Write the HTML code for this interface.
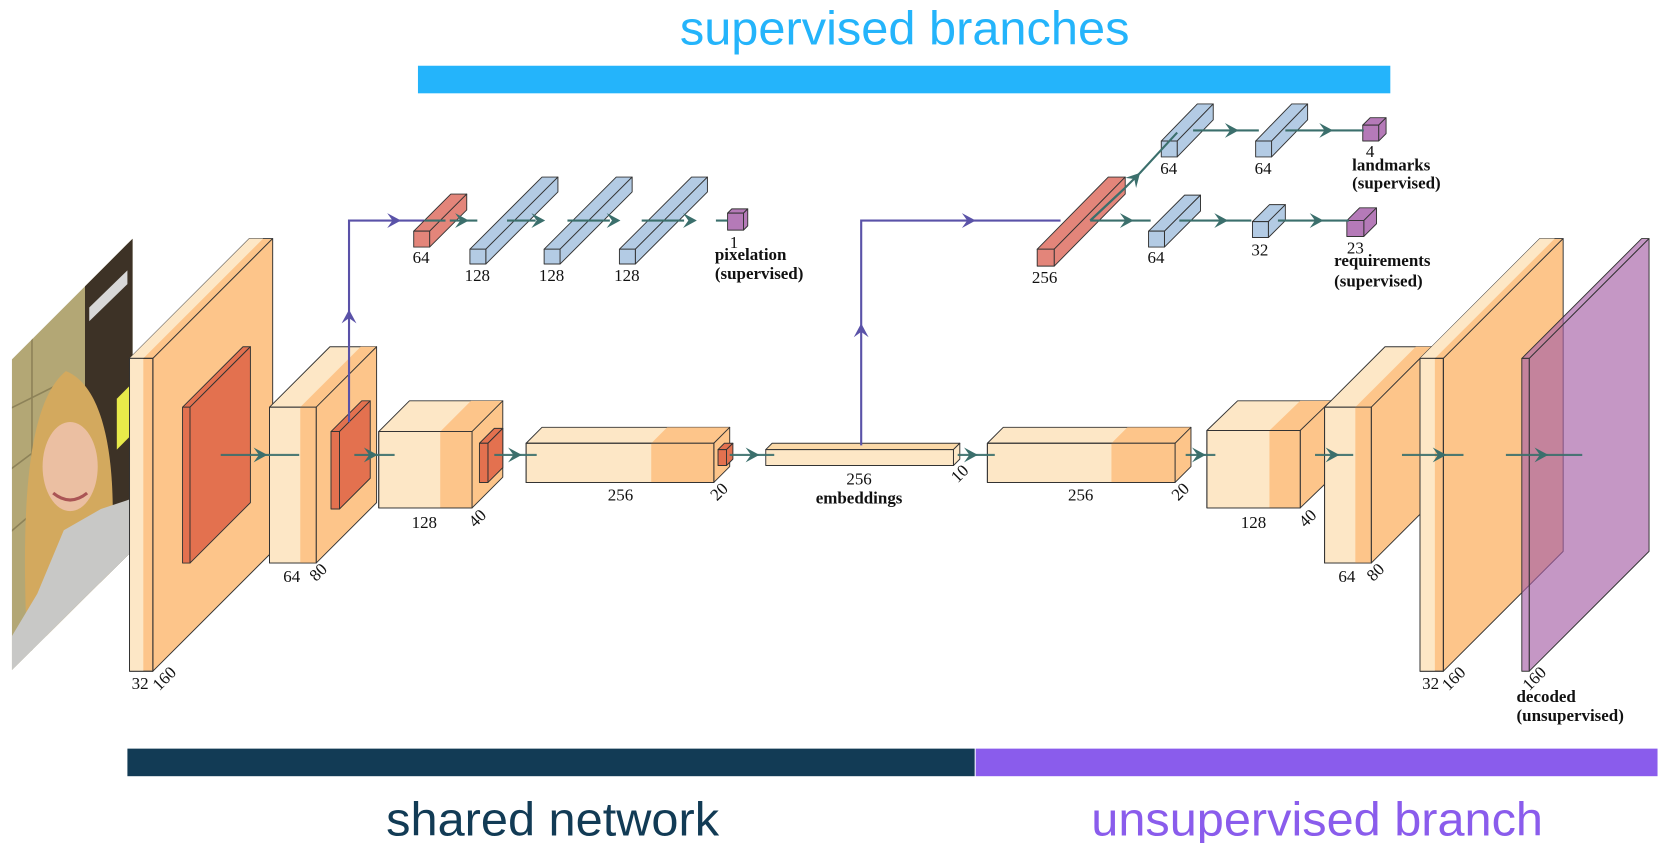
<!DOCTYPE html>
<html><head><meta charset="utf-8"><style>
html,body{margin:0;padding:0;background:#fff;}
svg{display:block;}
.n{font-family:"Liberation Serif",serif;font-size:16px;fill:#111;}
.b{font-family:"Liberation Serif",serif;font-size:16px;font-weight:bold;fill:#111;}
.h{font-family:"Liberation Sans",sans-serif;font-size:45px;}
</style></head><body>
<svg width="1663" height="843" viewBox="0 0 1568 795" xmlns="http://www.w3.org/2000/svg">
<defs>
<clipPath id="ph"><polygon points="11,339 125,225 125,519 11,632"/></clipPath>
<g id="ah"><path d="M-13,-7 L0,0 L-13,7 L-8,0 Z" fill="#3b6f6c"/></g>
<g id="ahp"><path d="M-13,-7 L0,0 L-13,7 L-8,0 Z" fill="#5a52a8"/></g>
</defs>

<text x="853" y="42" text-anchor="middle" class="h" fill="#24b4fb" textLength="424" lengthAdjust="spacingAndGlyphs">supervised branches</text>
<rect x="394" y="62" width="917" height="26" fill="#24b4fb"/>

<!-- photo -->
<g clip-path="url(#ph)">
<rect x="0" y="220" width="130" height="420" fill="#b3a775"/>
<g stroke="#8d8258" stroke-width="1.5"><line x1="0" y1="390" x2="60" y2="360"/><line x1="0" y1="450" x2="40" y2="420"/><line x1="0" y1="510" x2="35" y2="480"/><line x1="30" y1="300" x2="30" y2="640"/></g>
<rect x="80" y="220" width="50" height="330" fill="#3d3226"/>
<polygon points="84,290 120,255 120,268 84,303" fill="#d8d8d8"/>
<polygon points="110,376 124,362 124,410 110,424" fill="#e8ea4a"/>
<rect x="34" y="480" width="6" height="90" fill="#555"/>
<path d="M25,600 C20,480 25,380 62,350 C100,365 110,440 105,520 L100,600 Z" fill="#d3a95e"/>
<ellipse cx="66" cy="440" rx="26" ry="42" fill="#ebbfa2"/>
<path d="M50,465 Q66,478 82,465" stroke="#a55" stroke-width="3" fill="none"/>
<polygon points="11,600 35,560 60,500 95,480 125,470 125,640 11,640" fill="#c8c8c6"/>
</g>

<g stroke="#333" stroke-width="0.9" stroke-linejoin="round">
<polygon points="122,338 235,225 257,225 144,338" fill="#fdc58a"/>
<polygon points="122,338 235,225 248,225 135,338" fill="#fde7c6" stroke="none"/>
<polygon points="144,338 257,225 257,520 144,633" fill="#fdc58a"/>
<rect x="122" y="338" width="22" height="295" fill="#fdc58a"/>
<rect x="122" y="338" width="13" height="295" fill="#fde7c6" stroke="none"/>
<rect x="122" y="338" width="22" height="295" fill="none"/>
<polygon points="172,384 229,327 236,327 179,384" fill="#e3714f"/>
<polygon points="179,384 236,327 236,474 179,531" fill="#e3714f"/>
<rect x="172" y="384" width="7" height="147" fill="#e3714f"/>

<polygon points="254,384 311,327 355,327 298,384" fill="#fde7c6"/>
<polygon points="283,384 340,327 355,327 298,384" fill="#fdc58a" stroke="none"/>
<polygon points="298,384 355,327 355,474 298,531" fill="#fdc58a"/>
<rect x="254" y="384" width="44" height="147" fill="#fde7c6"/>
<rect x="283" y="384" width="15" height="147" fill="#fdc58a" stroke="none"/>
<rect x="254" y="384" width="44" height="147" fill="none"/>
<polygon points="312,407 341,378 349,378 320,407" fill="#e3714f"/>
<polygon points="320,407 349,378 349,451 320,480" fill="#e3714f"/>
<rect x="312" y="407" width="8" height="73" fill="#e3714f"/>

<polygon points="357,407 386,378 474,378 445,407" fill="#fde7c6"/>
<polygon points="415,407 444,378 474,378 445,407" fill="#fdc58a" stroke="none"/>
<polygon points="445,407 474,378 474,450 445,479" fill="#fdc58a"/>
<rect x="357" y="407" width="88" height="72" fill="#fde7c6"/>
<rect x="415" y="407" width="30" height="72" fill="#fdc58a" stroke="none"/>
<rect x="357" y="407" width="88" height="72" fill="none"/>
<polygon points="452,418 466,404 474,404 460,418" fill="#e3714f"/>
<polygon points="460,418 474,404 474,441 460,455" fill="#e3714f"/>
<rect x="452" y="418" width="8" height="37" fill="#e3714f"/>

<polygon points="496,418 511,403 688,403 673,418" fill="#fde7c6"/>
<polygon points="614,418 629,403 688,403 673,418" fill="#fdc58a" stroke="none"/>
<polygon points="673,418 688,403 688,440 673,455" fill="#fdc58a"/>
<rect x="496" y="418" width="177" height="37" fill="#fde7c6"/>
<rect x="614" y="418" width="59" height="37" fill="#fdc58a" stroke="none"/>
<rect x="496" y="418" width="177" height="37" fill="none"/>
<polygon points="677,424 683,418 691,418 685,424" fill="#e3714f"/>
<polygon points="685,424 691,418 691,433 685,439" fill="#e3714f"/>
<rect x="677" y="424" width="8" height="15" fill="#e3714f"/>

<polygon points="722,424 728,418 905,418 899,424" fill="#fbd9a8"/>
<polygon points="899,424 905,418 905,433 899,439" fill="#fde7c6"/>
<rect x="722" y="424" width="177" height="15" fill="#fde7c6"/>

<polygon points="931,418 946,403 1123,403 1108,418" fill="#fde7c6"/>
<polygon points="1048,418 1063,403 1123,403 1108,418" fill="#fdc58a" stroke="none"/>
<polygon points="1108,418 1123,403 1123,440 1108,455" fill="#fdc58a"/>
<rect x="931" y="418" width="177" height="37" fill="#fde7c6"/>
<rect x="1048" y="418" width="60" height="37" fill="#fdc58a" stroke="none"/>
<rect x="931" y="418" width="177" height="37" fill="none"/>

<polygon points="1138,406 1167,378 1255,378 1226,406" fill="#fde7c6"/>
<polygon points="1197,406 1226,378 1255,378 1226,406" fill="#fdc58a" stroke="none"/>
<polygon points="1226,406 1255,378 1255,451 1226,479" fill="#fdc58a"/>
<rect x="1138" y="406" width="88" height="73" fill="#fde7c6"/>
<rect x="1197" y="406" width="29" height="73" fill="#fdc58a" stroke="none"/>
<rect x="1138" y="406" width="88" height="73" fill="none"/>

<polygon points="1249,384 1306,327 1350,327 1293,384" fill="#fde7c6"/>
<polygon points="1278,384 1335,327 1350,327 1293,384" fill="#fdc58a" stroke="none"/>
<polygon points="1293,384 1350,327 1350,474 1293,531" fill="#fdc58a"/>
<rect x="1249" y="384" width="44" height="147" fill="#fde7c6"/>
<rect x="1278" y="384" width="15" height="147" fill="#fdc58a" stroke="none"/>
<rect x="1249" y="384" width="44" height="147" fill="none"/>

<polygon points="1339,338 1452,225 1474,225 1361,338" fill="#fdc58a"/>
<polygon points="1339,338 1452,225 1466,225 1353,338" fill="#fde7c6" stroke="none"/>
<polygon points="1361,338 1474,225 1474,520 1361,633" fill="#fdc58a"/>
<rect x="1339" y="338" width="22" height="295" fill="#fdc58a"/>
<rect x="1339" y="338" width="14" height="295" fill="#fde7c6" stroke="none"/>
<rect x="1339" y="338" width="22" height="295" fill="none"/>

<g fill="#a660a6" fill-opacity="0.65">
<polygon points="1435,338 1548,225 1555,225 1442,338"/>
<polygon points="1442,338 1555,225 1555,520 1442,633"/>
<rect x="1435" y="338" width="7" height="295"/>
</g>
</g>

<!-- main line segments (on top) -->
<g stroke="#3b6f6c" stroke-width="2" fill="none" stroke-opacity="0.9">
<line x1="208" y1="429" x2="282" y2="429"/>
<line x1="334" y1="429" x2="372" y2="429"/>
<line x1="466" y1="429" x2="506" y2="429"/>
<line x1="688" y1="429" x2="730" y2="429"/>
<line x1="903" y1="429" x2="938" y2="429"/>
<line x1="1118" y1="429" x2="1146" y2="429"/>
<line x1="1240" y1="429" x2="1276" y2="429"/>
<line x1="1322" y1="429" x2="1380" y2="429"/>
<line x1="1420" y1="429" x2="1492" y2="429"/>
</g>
<use href="#ah" x="252" y="429"/>
<use href="#ah" x="356" y="429"/>
<use href="#ah" x="492" y="429"/>
<use href="#ah" x="716" y="429"/>
<use href="#ah" x="922" y="429"/>
<use href="#ah" x="1137" y="429"/>
<use href="#ah" x="1263" y="429"/>
<use href="#ah" x="1364" y="429"/>
<use href="#ah" x="1460" y="429"/>

<g stroke="#5a52a8" stroke-width="2" fill="none">
<polyline points="329,398 329,208 400,208"/>
<polyline points="812,420 812,208 1000,208"/>
</g>
<use href="#ahp" transform="translate(329,292) rotate(-90)"/>
<use href="#ahp" x="378" y="208"/>
<use href="#ahp" transform="translate(812,305) rotate(-90)"/>
<use href="#ahp" x="920" y="208"/>

<g stroke="#333" stroke-width="0.9" stroke-linejoin="round">
<polygon points="390,218 425,183 440,183 405,218" fill="#e3857a"/>
<polygon points="405,218 440,183 440,198 405,233" fill="#e3857a"/>
<rect x="390" y="218" width="15" height="15" fill="#e3857a"/>
<polygon points="443,235 511,167 526,167 458,235" fill="#b3cbe4"/>
<polygon points="458,235 526,167 526,181 458,249" fill="#b3cbe4"/>
<rect x="443" y="235" width="15" height="14" fill="#b3cbe4"/>
<polygon points="513,235 581,167 596,167 528,235" fill="#b3cbe4"/>
<polygon points="528,235 596,167 596,181 528,249" fill="#b3cbe4"/>
<rect x="513" y="235" width="15" height="14" fill="#b3cbe4"/>
<polygon points="584,235 652,167 667,167 599,235" fill="#b3cbe4"/>
<polygon points="599,235 667,167 667,181 599,249" fill="#b3cbe4"/>
<rect x="584" y="235" width="15" height="14" fill="#b3cbe4"/>
<polygon points="686,201 690,197 705,197 701,201" fill="#b57ab8"/>
<polygon points="701,201 705,197 705,213 701,217" fill="#b57ab8"/>
<rect x="686" y="201" width="15" height="16" fill="#b57ab8"/>
</g>
<g stroke="#3b6f6c" stroke-width="2"><line x1="400" y1="208" x2="420" y2="208"/><line x1="424" y1="208" x2="450" y2="208"/><line x1="478" y1="208" x2="505" y2="208"/><line x1="535" y1="208" x2="575" y2="208"/><line x1="605" y1="208" x2="645" y2="208"/><line x1="675" y1="208" x2="686" y2="208"/></g>
<use href="#ah" x="442" y="208"/>
<use href="#ah" x="514" y="208"/>
<use href="#ah" x="585" y="208"/>
<use href="#ah" x="657" y="208"/>

<g stroke="#333" stroke-width="0.9" stroke-linejoin="round">
<polygon points="978,235 1045,167 1061,167 994,235" fill="#e3857a"/>
<polygon points="994,235 1061,167 1061,183 994,251" fill="#e3857a"/>
<rect x="978" y="235" width="16" height="16" fill="#e3857a"/>
<polygon points="1095,133 1129,98 1144,98 1110,133" fill="#b3cbe4"/>
<polygon points="1110,133 1144,98 1144,113 1110,148" fill="#b3cbe4"/>
<rect x="1095" y="133" width="15" height="15" fill="#b3cbe4"/>
<polygon points="1184,133 1218,98 1233,98 1199,133" fill="#b3cbe4"/>
<polygon points="1199,133 1233,98 1233,113 1199,148" fill="#b3cbe4"/>
<rect x="1184" y="133" width="15" height="15" fill="#b3cbe4"/>
<polygon points="1285,118 1292,111 1307,111 1300,118" fill="#b57ab8"/>
<polygon points="1300,118 1307,111 1307,126 1300,133" fill="#b57ab8"/>
<rect x="1285" y="118" width="15" height="15" fill="#b57ab8"/>
<polygon points="1083,218 1117,184 1132,184 1098,218" fill="#b3cbe4"/>
<polygon points="1098,218 1132,184 1132,199 1098,233" fill="#b3cbe4"/>
<rect x="1083" y="218" width="15" height="15" fill="#b3cbe4"/>
<polygon points="1181,209 1197,193 1212,193 1196,209" fill="#b3cbe4"/>
<polygon points="1196,209 1212,193 1212,208 1196,224" fill="#b3cbe4"/>
<rect x="1181" y="209" width="15" height="15" fill="#b3cbe4"/>
<polygon points="1270,208 1282,196 1298,196 1286,208" fill="#b57ab8"/>
<polygon points="1286,208 1298,196 1298,211 1286,223" fill="#b57ab8"/>
<rect x="1270" y="208" width="16" height="15" fill="#b57ab8"/>
</g>
<g stroke="#3b6f6c" stroke-width="2" fill="none">
<polyline points="1028,208 1060,178 1075,163 1110,125"/>
<line x1="1060" y1="178" x2="1028" y2="208"/>
<line x1="1028" y1="208" x2="1085" y2="208"/>
<line x1="1112" y1="208" x2="1180" y2="208"/>
<line x1="1205" y1="208" x2="1272" y2="208"/>
<line x1="1125" y1="123" x2="1187" y2="123"/>
<line x1="1212" y1="123" x2="1286" y2="123"/>
</g>
<use href="#ah" transform="translate(1075,163) rotate(-47)"/>
<use href="#ah" x="1168" y="123"/>
<use href="#ah" x="1257" y="123"/>
<use href="#ah" x="1069" y="208"/>
<use href="#ah" x="1158" y="208"/>
<use href="#ah" x="1248" y="208"/>

<text class="n" x="397" y="248" text-anchor="middle">64</text>
<text class="n" x="450" y="265" text-anchor="middle">128</text>
<text class="n" x="520" y="265" text-anchor="middle">128</text>
<text class="n" x="591" y="265" text-anchor="middle">128</text>
<text class="n" x="692" y="234" text-anchor="middle">1</text>
<text class="b" x="674" y="245">pixelation</text>
<text class="b" x="674" y="263">(supervised)</text>

<text class="n" x="985" y="267" text-anchor="middle">256</text>
<text class="n" x="1102" y="164" text-anchor="middle">64</text>
<text class="n" x="1191" y="164" text-anchor="middle">64</text>
<text class="n" x="1292" y="148" text-anchor="middle">4</text>
<text class="b" x="1275" y="161">landmarks</text>
<text class="b" x="1275" y="178">(supervised)</text>
<text class="n" x="1090" y="248" text-anchor="middle">64</text>
<text class="n" x="1188" y="241" text-anchor="middle">32</text>
<text class="n" x="1278" y="239" text-anchor="middle">23</text>
<text class="b" x="1258" y="251">requirements</text>
<text class="b" x="1258" y="270">(supervised)</text>

<text class="n" x="132" y="650" text-anchor="middle">32</text>
<text class="n" transform="translate(150,652) rotate(-45)">160</text>
<text class="n" x="275" y="549" text-anchor="middle">64</text>
<text class="n" transform="translate(298,549) rotate(-45)">80</text>
<text class="n" x="400" y="498" text-anchor="middle">128</text>
<text class="n" transform="translate(448,498) rotate(-45)">40</text>
<text class="n" x="585" y="472" text-anchor="middle">256</text>
<text class="n" transform="translate(676,473) rotate(-45)">20</text>
<text class="n" x="810" y="457" text-anchor="middle">256</text>
<text class="b" x="810" y="475" text-anchor="middle">embeddings</text>
<text class="n" transform="translate(903,456) rotate(-45)">10</text>
<text class="n" x="1019" y="472" text-anchor="middle">256</text>
<text class="n" transform="translate(1111,473) rotate(-45)">20</text>
<text class="n" x="1182" y="498" text-anchor="middle">128</text>
<text class="n" transform="translate(1231,498) rotate(-45)">40</text>
<text class="n" x="1270" y="549" text-anchor="middle">64</text>
<text class="n" transform="translate(1295,549) rotate(-45)">80</text>
<text class="n" x="1349" y="650" text-anchor="middle">32</text>
<text class="n" transform="translate(1366,652) rotate(-45)">160</text>
<text class="n" transform="translate(1442,652) rotate(-45)">160</text>
<text class="b" x="1430" y="662">decoded</text>
<text class="b" x="1430" y="680">(unsupervised)</text>

<rect x="120" y="706" width="799" height="26" fill="#123b55"/>
<rect x="920" y="706" width="643" height="26" fill="#8a5cec"/>
<text x="521" y="788" text-anchor="middle" class="h" fill="#123b55" textLength="314" lengthAdjust="spacingAndGlyphs">shared network</text>
<text x="1242" y="788" text-anchor="middle" class="h" fill="#8a5cec" textLength="426" lengthAdjust="spacingAndGlyphs">unsupervised branch</text>
</svg>
</body></html>
